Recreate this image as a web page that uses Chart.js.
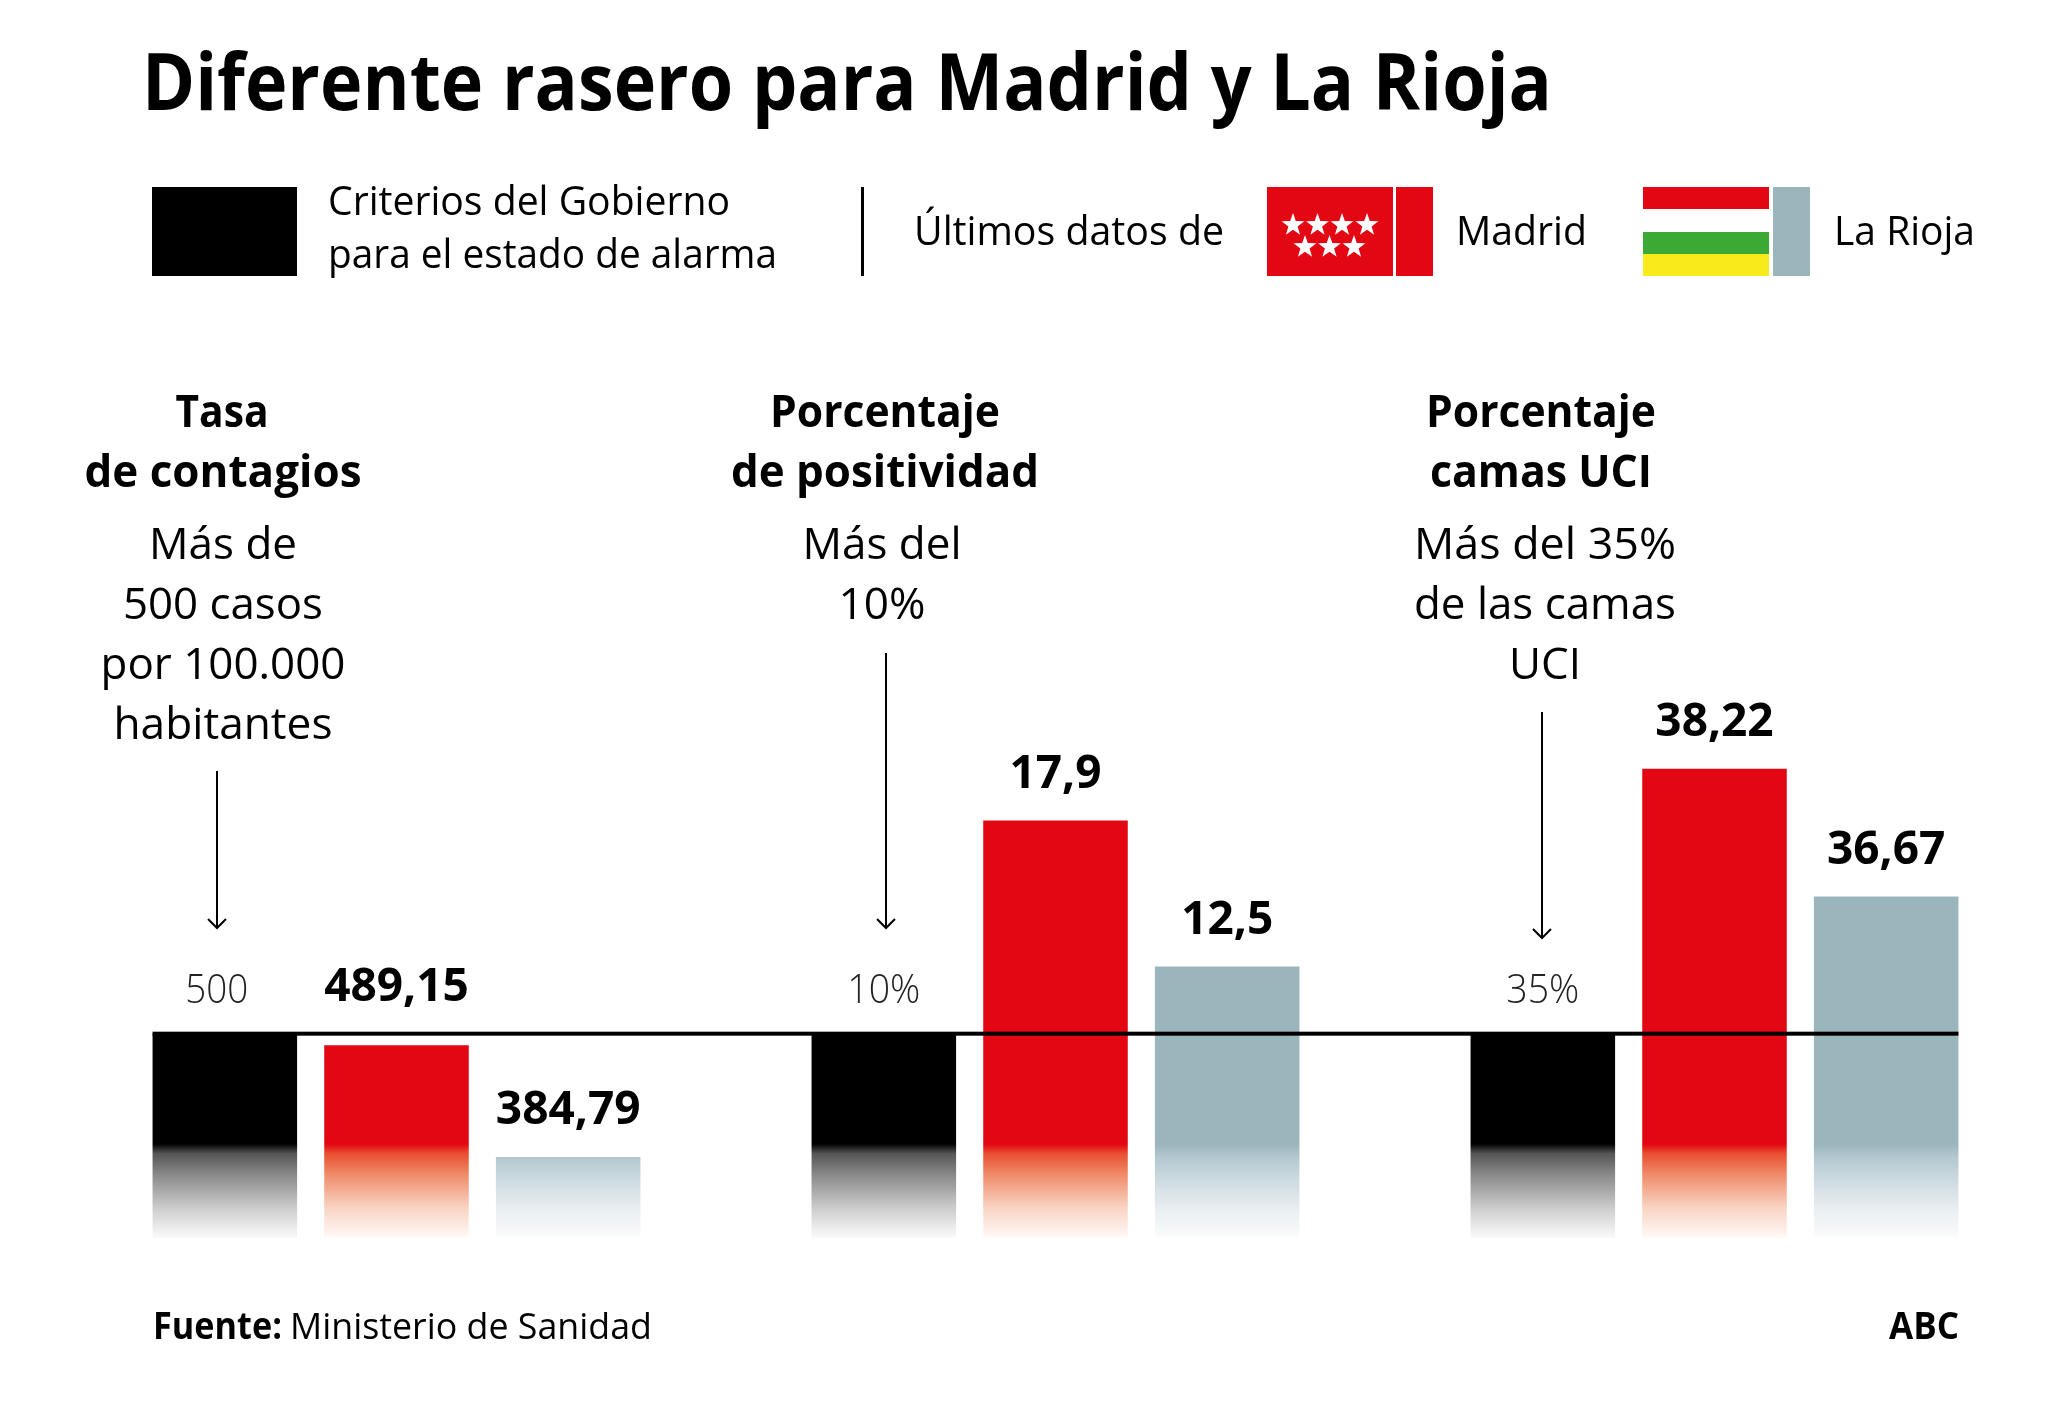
<!DOCTYPE html>
<html lang="es">
<head>
<meta charset="utf-8">
<title>Diferente rasero para Madrid y La Rioja</title>
<script src="https://cdn.jsdelivr.net/npm/chart.js@4"></script>
<style>
  html, body { margin: 0; background: #fff; }
  #page { position: relative; width: 2048px; height: 1402px; overflow: hidden; }
  canvas, svg { position: absolute; left: 0; top: 0; }
  text { font-family: "Open Sans", sans-serif; fill: #000; }
  .b { font-weight: 700; }
  .title { font-size: 78px; font-weight: 700; }
  .head { font-size: 44px; font-weight: 700; text-anchor: middle; }
  .body { font-size: 43px; text-anchor: middle; }
  .leg { font-size: 40px; }
  .foot { font-size: 37px; }
</style>
</head>
<body>
<div id="page">
  <canvas id="chart" width="2048" height="1402"></canvas>
  <svg width="2048" height="1402" viewBox="0 0 2048 1402">
    <text class="title" x="142" y="110" textLength="1410" lengthAdjust="spacingAndGlyphs">Diferente rasero para Madrid y La Rioja</text>

    <!-- legend -->
    <rect x="152" y="187" width="145" height="89" fill="#000"/>
    <text class="leg" x="328" y="215" textLength="402" lengthAdjust="spacingAndGlyphs">Criterios del Gobierno</text>
    <text class="leg" x="328" y="268" textLength="449" lengthAdjust="spacingAndGlyphs">para el estado de alarma</text>
    <rect x="861" y="187" width="3" height="89" fill="#000"/>
    <text class="leg" x="914" y="245" textLength="310" lengthAdjust="spacingAndGlyphs">Últimos datos de</text>

    <rect x="1267" y="187" width="126" height="89" fill="#e30613"/>
    <rect x="1396" y="187" width="37" height="89" fill="#e30613"/>
    <defs><polygon id="star" fill="#fff" points="0,-12 2.8,-3.9 11.4,-3.7 4.6,1.5 7.1,9.7 0,4.8 -7.1,9.7 -4.6,1.5 -11.4,-3.7 -2.8,-3.9"/></defs>
    <use href="#star" x="1293" y="225"/><use href="#star" x="1317.5" y="225"/><use href="#star" x="1342" y="225"/><use href="#star" x="1367" y="225"/>
    <use href="#star" x="1305" y="247"/><use href="#star" x="1329.5" y="247"/><use href="#star" x="1354" y="247"/>
    <text class="leg" x="1456" y="245" textLength="131" lengthAdjust="spacingAndGlyphs">Madrid</text>

    <rect x="1643" y="187" width="126" height="22" fill="#e30613"/>
    <rect x="1643" y="232" width="126" height="22" fill="#3aaa35"/>
    <rect x="1643" y="254" width="126" height="22" fill="#f9ea1c"/>
    <rect x="1773" y="187" width="37" height="89" fill="#9bb5bd"/>
    <text class="leg" x="1834" y="245" textLength="141" lengthAdjust="spacingAndGlyphs">La Rioja</text>

    <!-- group headings -->
    <text class="head" x="222" y="427" textLength="93" lengthAdjust="spacingAndGlyphs">Tasa</text>
    <text class="head" x="223" y="487" textLength="277" lengthAdjust="spacingAndGlyphs">de contagios</text>
    <text class="body" x="223" y="559" textLength="148" lengthAdjust="spacingAndGlyphs">Más de</text>
    <text class="body" x="223" y="619" textLength="200" lengthAdjust="spacingAndGlyphs">500 casos</text>
    <text class="body" x="223" y="679" textLength="245" lengthAdjust="spacingAndGlyphs">por 100.000</text>
    <text class="body" x="223" y="739" textLength="219" lengthAdjust="spacingAndGlyphs">habitantes</text>

    <text class="head" x="885" y="427" textLength="230" lengthAdjust="spacingAndGlyphs">Porcentaje</text>
    <text class="head" x="885" y="487" textLength="308" lengthAdjust="spacingAndGlyphs">de positividad</text>
    <text class="body" x="882" y="559" textLength="159" lengthAdjust="spacingAndGlyphs">Más del</text>
    <text class="body" x="882" y="619" textLength="87" lengthAdjust="spacingAndGlyphs">10%</text>

    <text class="head" x="1541" y="427" textLength="230" lengthAdjust="spacingAndGlyphs">Porcentaje</text>
    <text class="head" x="1541" y="487" textLength="222" lengthAdjust="spacingAndGlyphs">camas UCI</text>
    <text class="body" x="1545" y="559" textLength="262" lengthAdjust="spacingAndGlyphs">Más del 35%</text>
    <text class="body" x="1545" y="619" textLength="262" lengthAdjust="spacingAndGlyphs">de las camas</text>
    <text class="body" x="1545" y="679" textLength="72" lengthAdjust="spacingAndGlyphs">UCI</text>

    <!-- arrows -->
    <g fill="none" stroke="#000" stroke-width="2">
      <path d="M217 771V928M208 919l9 9l9-9"/>
      <path d="M886 653V928M877 919l9 9l9-9"/>
      <path d="M1542 712V938M1533 929l9 9l9-9"/>
    </g>

    <!-- footer -->
    <text class="foot b" x="153" y="1339" textLength="129" lengthAdjust="spacingAndGlyphs">Fuente:</text>
    <text class="foot" x="290" y="1339" textLength="362" lengthAdjust="spacingAndGlyphs">Ministerio de Sanidad</text>
    <text class="foot b" x="1889" y="1339" textLength="70" lengthAdjust="spacingAndGlyphs">ABC</text>
  </svg>
</div>

<script>
const groupLabels = ["Tasa de contagios", "Porcentaje de positividad", "Porcentaje camas UCI"];
const seriesLabels = ["Criterio del Gobierno", "Madrid", "La Rioja"];
const tasaValues = [500, 489.15, 384.79];
const positividadValues = [10, 17.9, 12.5];
const camasValues = [35, 38.22, 36.67];
const suffixes = ["", "%", "%"];

// each group has its own scale, all three put the threshold on the same pixel row
const axisRanges = [[309, 811], [2.44, 22.33], [32.53, 39.04]];

const groupValues = [tasaValues, positividadValues, camasValues];

// fade of the lower part of the bars: [position from fade start to bottom, colour]
const fades = [
  ["#000000", [[0.1, "#555555"], [0.32, "#888888"], [0.68, "#cccccc"], [0.92, "#f0f0f0"], [1, "#fafafa"]]],
  ["#e30613", [[0.1, "#e84e30"], [0.32, "#f08a68"], [0.68, "#f9d4c4"], [0.92, "#fdf0ea"], [1, "#fefafa"]]],
  ["#9bb5bd", [[0.14, "#b3c8d0"], [0.4, "#cfdbe1"], [0.72, "#ebf0f3"], [0.92, "#f6f8f9"], [1, "#fcfdfd"]]],
];
const fadeStart = 0.825;

function barFill(context, series) {
  const area = context.chart.chartArea;
  if (!area) return fades[series][0];
  const g = context.chart.ctx.createLinearGradient(0, area.top, 0, area.bottom);
  g.addColorStop(0, fades[series][0]);
  g.addColorStop(fadeStart, fades[series][0]);
  fades[series][1].forEach(([p, c]) => g.addColorStop(fadeStart + p * (1 - fadeStart), c));
  return g;
}

const datasets = [];
groupValues.forEach((values, g) => {
  values.forEach((v, s) => {
    datasets.push({
      label: seriesLabels[s],
      data: groupLabels.map((_, i) => (i === g ? v : null)),
      yAxisID: "y" + g,
      base: axisRanges[g][0],
      skipNull: true,
      backgroundColor: (ctx) => barFill(ctx, s),
      borderWidth: 0,
      categoryPercentage: 0.7815,
      barPercentage: 0.842,
    });
  });
});

const scales = { x: { display: false, grid: { display: false } } };
axisRanges.forEach((r, g) => {
  scales["y" + g] = { display: false, min: r[0], max: r[1], grid: { display: false } };
});

// value labels over the bars and the black threshold line
const barLabels = {
  id: "barLabels",
  afterDatasetsDraw(chart) {
    const ctx = chart.ctx;
    const lineY = chart.scales.y0.getPixelForValue(tasaValues[0]);
    const first = chart.getDatasetMeta(0).data[0];
    const last = chart.getDatasetMeta(8).data[2];
    ctx.save();
    ctx.fillStyle = "#000";
    ctx.fillRect(first.x - first.width / 2, lineY - 2, last.x + last.width / 2 - first.x + first.width / 2, 4);
    ctx.textAlign = "center";
    ctx.textBaseline = "middle";
    groupValues.forEach((values, g) => {
      values.forEach((v, s) => {
        const bar = chart.getDatasetMeta(g * 3 + s).data[g];
        const text = v.toLocaleString("es-ES") + (s === 0 ? suffixes[g] : "");
        if (s === 0) {
          // threshold numbers sit under the arrow
          ctx.font = '300 40px "Open Sans"';
          ctx.fillStyle = "#222";
          ctx.fillText(text, g === 0 ? bar.x - 8 : bar.x, lineY - 42, g === 0 ? 63 : 73);
        } else {
          // a bar just under the line keeps its label above the line
          const top = bar.y - lineY < 60 && bar.y > lineY ? lineY : bar.y;
          ctx.font = '700 46px "Open Sans"';
          ctx.fillStyle = "#000";
          ctx.fillText(text, bar.x, top - 46);
        }
      });
    });
    ctx.restore();
  },
};

new Chart(document.getElementById("chart"), {
  type: "bar",
  data: { labels: groupLabels, datasets: datasets },
  options: {
    responsive: false,
    animation: false,
    layout: { padding: { left: 67, right: 4, top: 701, bottom: 164 } },
    scales: scales,
    plugins: { legend: { display: false }, tooltip: { enabled: false } },
  },
  plugins: [barLabels],
});
</script>
</body>
</html>
